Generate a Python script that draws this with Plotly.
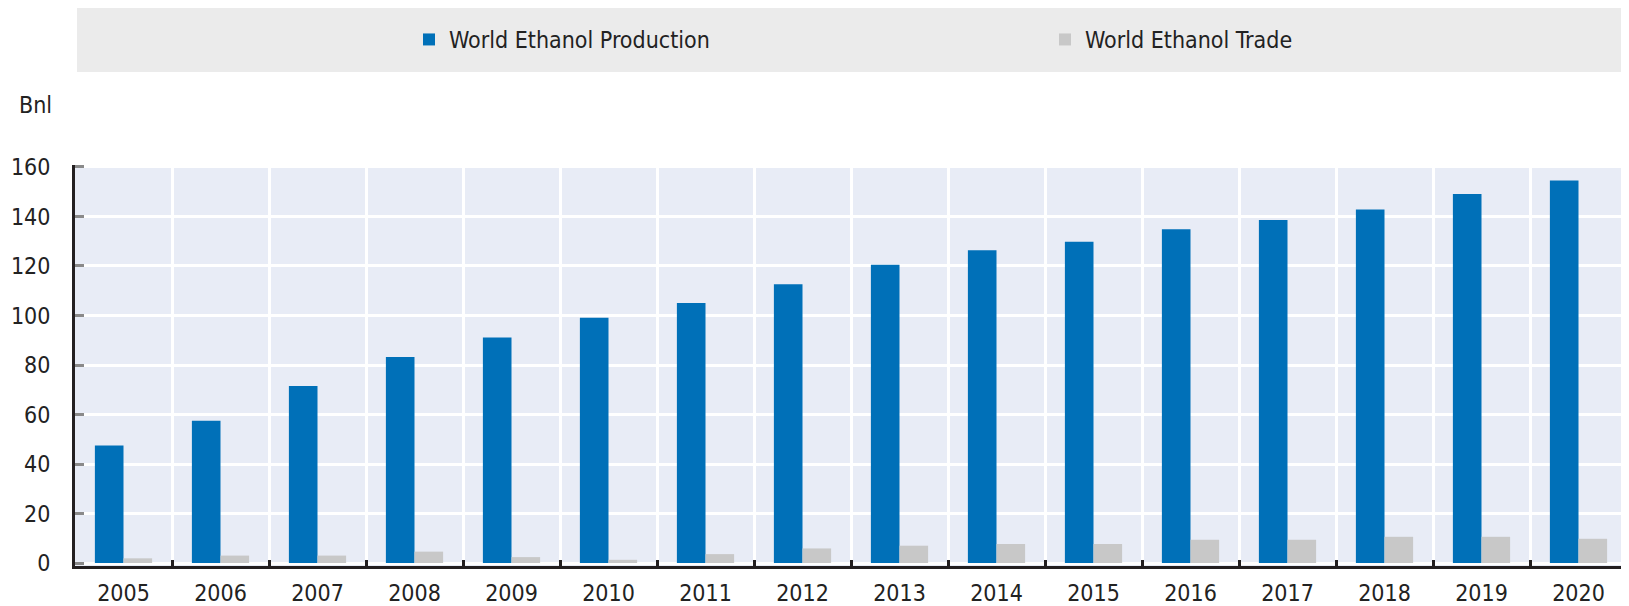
import plotly.graph_objects as go

years = ["2005", "2006", "2007", "2008", "2009", "2010", "2011", "2012",
         "2013", "2014", "2015", "2016", "2017", "2018", "2019", "2020"]
production = [47.5, 57.5, 71.5, 83.2, 91.1, 99.1, 105.0, 112.6,
              120.5, 126.4, 129.8, 134.8, 138.6, 142.8, 149.1, 154.5]
trade = [1.9, 3.0, 3.0, 4.6, 2.4, 1.3, 3.6, 5.9,
         7.0, 7.7, 7.7, 9.4, 9.4, 10.6, 10.6, 9.8]
y_ticks = [0, 20, 40, 60, 80, 100, 120, 140, 160]

FONT = "DejaVu Sans Condensed, Liberation Sans Narrow, Arial Narrow, sans-serif"
FS = 23
OFF = 8  # the page body has a default 8px margin
W, H = 1629 - OFF, 606 - OFF
L, R, T, B = 75 - OFF, 2, 165 - OFF, 40
PW, PH = W - L - R, H - T - B


def px_x(p):
    # p: pixel position in the 1629x606 window
    return (p - OFF - L) / PW


def px_y(p):
    return (H - B - (p - OFF)) / PH


fig = go.Figure()
fig.add_trace(go.Bar(x=years, y=production, name="World Ethanol Production",
                     marker=dict(color="#0070b8", line=dict(width=0)),
                     legend="legend"))
fig.add_trace(go.Bar(x=years, y=trade, name="World Ethanol Trade",
                     marker=dict(color="#c8c8c8", line=dict(width=0)),
                     legend="legend2"))

legend_common = dict(
    orientation="h",
    yanchor="middle",
    bgcolor="rgba(0,0,0,0)",
    borderwidth=0,
    font=dict(family=FONT, size=FS, color="#222222"),
    itemclick=False, itemdoubleclick=False,
)

fig.update_layout(
    width=W, height=H,
    margin=dict(l=L, r=R, t=T, b=B, pad=0, autoexpand=False),
    paper_bgcolor="white",
    plot_bgcolor="#e8ecf6",
    barmode="group",
    bargap=0.41,
    bargroupgap=0,
    font=dict(family=FONT, size=FS, color="#222222"),
    showlegend=True,
    legend=dict(x=px_x(409), xanchor="left", y=px_y(39.5), **legend_common),
    legend2=dict(x=px_x(1045), xanchor="left", y=px_y(39.5), **legend_common),
    shapes=[
        dict(type="rect", xref="paper", yref="paper",
             x0=px_x(77), x1=px_x(1629), y0=px_y(72), y1=px_y(7),
             fillcolor="#ebebeb", line=dict(width=0), layer="below"),
    ],
    annotations=[
        dict(text="Bnl", xref="paper", yref="paper",
             x=px_x(17), y=px_y(104.5), xanchor="left", yanchor="middle",
             showarrow=False, font=dict(family=FONT, size=FS, color="#222222")),
    ],
    xaxis=dict(
        type="category",
        tickson="boundaries",
        showgrid=True, gridcolor="white", gridwidth=3,
        ticks="inside", ticklen=6, tickwidth=3, tickcolor="#231f20",
        showline=True, linecolor="#231f20", linewidth=3,
        tickfont=dict(family=FONT, size=FS, color="#222222"),
        ticklabelstandoff=4,
        fixedrange=True,
    ),
    yaxis=dict(
        range=[-1.2, 160.8],
        tickvals=y_ticks,
        showgrid=True, gridcolor="white", gridwidth=3,
        zeroline=False,
        ticks="inside", ticklen=9, tickwidth=3, tickcolor="#8a8a8a",
        showline=True, linecolor="#231f20", linewidth=3,
        tickfont=dict(family=FONT, size=FS, color="#222222"),
        ticklabelstandoff=17,
        fixedrange=True,
    ),
)

fig.write_html("out.html")
